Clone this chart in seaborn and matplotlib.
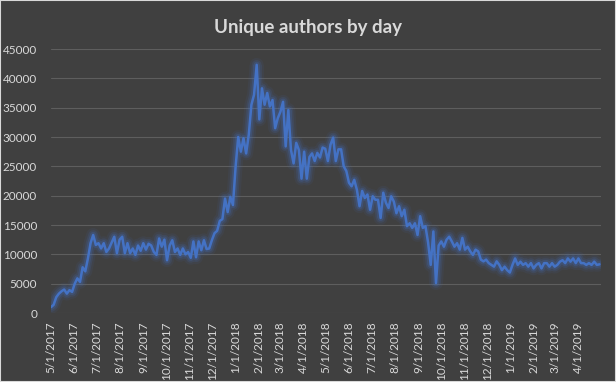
import pandas as pd
import matplotlib.pyplot as plt
import matplotlib.patheffects as pe
from matplotlib.patches import Rectangle
import seaborn as sns

# values, two per week (every 3.5 days) from 5/1/2017
authors = [
    1000, 1400, 2700, 3300, 3700, 4000, 3300, 3900, 3600, 5000,
    5900, 5300, 7800, 7100, 9300, 11900, 13300, 11600, 11900, 11000,
    11900, 10400, 11000, 12000, 13000, 10200, 12500, 13000, 10200, 11900,
    10200, 11000, 9900, 11500, 10600, 11900, 10800, 11800, 11500, 10400,
    9900, 12700, 11300, 12500, 9000, 11500, 12400, 10400, 11000, 9900,
    11000, 10000, 10400, 9400, 12200, 9500, 12200, 10700, 12400, 10900,
    11000, 12400, 13600, 14000, 15700, 16000, 19500, 17200, 19800, 18400,
    24900, 30000, 27500, 29800, 27200, 30400, 35500, 37200, 42300, 33000,
    38300, 35500, 37500, 35200, 36300, 31500, 33200, 34300, 36000, 28400,
    34600, 27800, 25500, 29000, 27800, 22900, 27500, 22900, 26600, 27200,
    25900, 27300, 26500, 28200, 28000, 25900, 28700, 29900, 25900, 27900,
    27900, 25000, 24200, 22200, 21600, 22700, 21000, 18200, 20800, 19600,
    20200, 17600, 19900, 19300, 19300, 16200, 20500, 18800, 17900, 19900,
    19000, 17000, 18200, 16500, 17600, 14800, 15300, 14500, 15300, 13300,
    16500, 14500, 14800, 12000, 8200, 13900, 5100, 11500, 12200, 11300,
    12500, 13000, 12200, 11300, 11900, 10800, 12800, 10800, 11300, 10500,
    9900, 10800, 10500, 9100, 8800, 9100, 8500, 8200, 7900, 8800,
    8200, 7300, 7900, 7300, 6900, 8200, 9300, 8200, 8750, 8200,
    8500, 7900, 8500, 7600, 8200, 8500, 7600, 8500, 8500, 7900,
    8500, 7900, 8200, 8750, 9000, 8500, 9300, 8750, 9300, 8500,
    9300, 8500, 8500, 8200, 8500, 8200, 8750, 8200, 8300,
]
start_date = '2017-05-01'
end_date = '2019-05-01'
month_ticks = pd.date_range('2017-05-01', '2019-04-01', freq='MS')
tick_labels = [f'{d.month}/{d.day}/{d.year}' for d in month_ticks]
y_ticks = list(range(0, 45001, 5000))

df = pd.DataFrame({
    'Date': pd.date_range(start_date, periods=len(authors), freq='84h'),
    'Authors': authors,
})

bg = '#404040'
txt = '#d9d9d9'
blue = '#4472c4'

sns.set_theme(style='dark')
plt.rcParams['font.family'] = ['Lato', 'DejaVu Sans']

fig = plt.figure(figsize=(6.16, 3.82), dpi=100, facecolor=bg)
ax = fig.add_axes([51 / 616, 1 - 313 / 382, 550 / 616, 264 / 382])
ax.set_facecolor(bg)

sns.lineplot(data=df, x='Date', y='Authors', ax=ax, color=blue, linewidth=1.8)
ax.lines[0].set_path_effects([
    pe.Stroke(linewidth=10, foreground=blue, alpha=0.08),
    pe.Stroke(linewidth=7, foreground=blue, alpha=0.14),
    pe.Stroke(linewidth=4.5, foreground=blue, alpha=0.22),
    pe.Normal(),
])

ax.set_xlim(pd.Timestamp(start_date), pd.Timestamp(end_date))
ax.set_ylim(0, 45000)
ax.set_xticks(month_ticks)
ax.set_xticklabels(tick_labels, rotation=90, fontsize=8.5, color=txt)
ax.set_yticks(y_ticks)
ax.set_yticklabels([str(v) for v in y_ticks], fontsize=8.5, color=txt)
ax.tick_params(axis='x', length=0, pad=6)
ax.tick_params(axis='y', length=0, pad=10)
ax.grid(axis='y', color='#5e5e5e', linewidth=0.8)
ax.grid(axis='x', visible=False)
ax.set_axisbelow(True)
for s in ax.spines.values():
    s.set_visible(False)
ax.set_xlabel('')
ax.set_ylabel('')

fig.text(0.5, 1 - 27 / 382, 'Unique authors by day', ha='center', va='center',
         fontsize=13.5, fontweight='bold', color=txt)
fig.patches.append(Rectangle((0, 0), 1, 1, transform=fig.transFigure, fill=False,
                             edgecolor='#d9d9d9', linewidth=1.5))

fig.savefig('out.png', dpi=100, facecolor=bg)
